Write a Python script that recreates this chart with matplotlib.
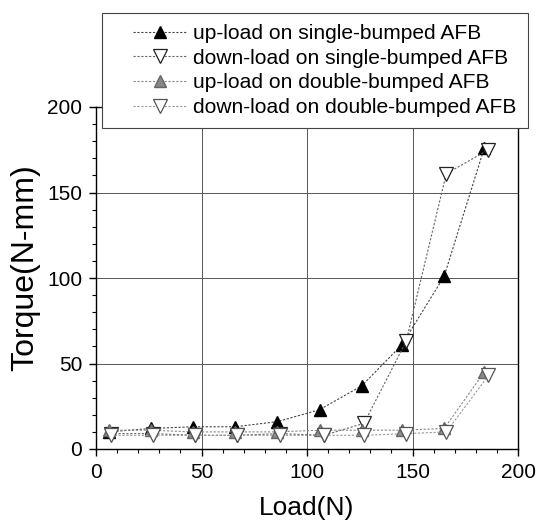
import matplotlib
matplotlib.use("Agg")
import matplotlib.pyplot as plt
from matplotlib.ticker import MultipleLocator
from matplotlib.patches import Rectangle

plt.rcParams['font.family'] = ['Liberation Sans', 'DejaVu Sans']

x_up = [6, 26, 46, 66, 86, 106, 126, 145, 165, 184]
x_down = [7, 27, 47, 67, 87, 108, 127, 147, 166, 186]

single_up = [10, 12, 13, 13, 16, 23, 37, 61, 101, 176]
single_down = [9, 9, 8, 8, 9, 8, 15, 63, 161, 175]
double_up = [11, 11, 10, 10, 10, 11, 11, 11, 12, 45]
double_down = [8, 8, 8, 8, 8, 8, 8, 9, 10, 43]

labels = ["up-load on single-bumped AFB",
          "down-load on single-bumped AFB",
          "up-load on double-bumped AFB",
          "down-load on double-bumped AFB"]

W, H = 550, 524
fig = plt.figure(figsize=(5.5, 5.24), dpi=100)
ax = fig.add_axes([96/W, 1-449/H, (518-96)/W, (449-107)/H])

ls = (0, (2, 1.5))
ax.plot(x_up, single_up, linestyle=ls, color='#444444', lw=0.8,
        marker='^', ms=9, mfc='black', mec='black', label=labels[0])
ax.plot(x_down, single_down, linestyle=ls, color='#666666', lw=0.8,
        marker='v', ms=10, mfc='white', mec='#222222', mew=0.9, label=labels[1])
ax.plot(x_up, double_up, linestyle=ls, color='#888888', lw=0.8,
        marker='^', ms=8, mfc='#888888', mec='#666666', label=labels[2])
ax.plot(x_down, double_down, linestyle=ls, color='#999999', lw=0.8,
        marker='v', ms=10, mfc='white', mec='#555555', mew=0.9, label=labels[3])

ax.set_xlim(0, 200)
ax.set_ylim(0, 200)
ax.xaxis.set_major_locator(MultipleLocator(50))
ax.yaxis.set_major_locator(MultipleLocator(50))
ax.xaxis.set_minor_locator(MultipleLocator(10))
ax.yaxis.set_minor_locator(MultipleLocator(10))
ax.tick_params(which='major', direction='out', length=5, width=1, labelsize=15, pad=5)
ax.tick_params(which='minor', direction='out', length=3, width=0.8)
ax.grid(True, which='major', color='#555555', lw=0.7)
for s in ax.spines.values():
    s.set_linewidth(1.0)

ax.set_xlabel("Load(N)", fontsize=19, labelpad=10)
ax.set_ylabel("Torque(N-mm)", fontsize=23)
ax.yaxis.set_label_coords((40 - 96) / (518 - 96), (449 - 268) / (449 - 107))

# legend frame
fig.patches.append(Rectangle((102/W, 1-128/H), (528-102)/W, (128-13)/H,
                             transform=fig.transFigure, facecolor='white',
                             edgecolor='#444444', lw=0.8, zorder=5))
leg = fig.legend(loc='upper left', bbox_to_anchor=(133/W, 1-24/H),
                 bbox_transform=fig.transFigure, borderpad=0, borderaxespad=0,
                 fontsize=15.1, frameon=False, handlelength=2.55,
                 labelspacing=0.27, handletextpad=0.3, numpoints=1)
leg.set_zorder(6)

fig.savefig("out.png", dpi=100)
